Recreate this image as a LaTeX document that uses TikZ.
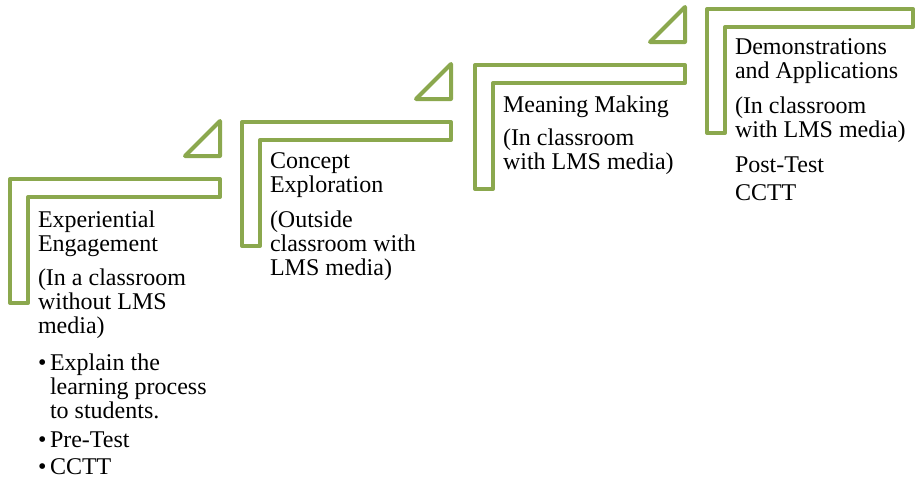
\documentclass[tikz,border=0pt]{standalone}
\usepackage{fontspec}
\setmainfont{Liberation Serif}
\definecolor{stepgreen}{RGB}{139,168,78}
\begin{document}
\begin{tikzpicture}[x=1pt,y=-1pt,
  stepline/.style={draw=stepgreen,line width=4pt,line join=round,fill=white},
  txt/.style={anchor=base west,inner sep=0pt,outer sep=0pt,font=\fontsize{24}{24}\selectfont}]
\useasboundingbox[fill=white] (0,0) rectangle (917,482);
% step shapes: (outer left, outer top, outer width)
\foreach \sx/\sy/\sw in {8/177/214, 240/120/213, 473/63/214, 705/7/210}{
  \begin{scope}[shift={(\sx,\sy)}]
    \pgfmathsetmacro{\r}{\sw-2}
    \draw[stepline] (2,2) -- (\r,2) -- (\r,20) -- (20,20) -- (20,126) -- (2,126) -- cycle;
  \end{scope}
}
% triangles
\foreach \sx/\sy/\sw in {8/177/214, 240/120/213, 473/63/214}{
  \begin{scope}[shift={(\sx,\sy)}]
    \pgfmathsetmacro{\r}{\sw-2}
    \pgfmathsetmacro{\l}{\sw-37}
    \draw[stepline] (\r,-21) -- (\r,-56) -- (\l,-21) -- cycle;
  \end{scope}
}
% step 1
\node[txt] (a1) at (38,227) {Experiential};
\node[txt] (a2) at (38,251) {Engagement};
\node[txt] (a3) at (38,285) {(In a classroom};
\node[txt] (a4) at (38,309) {without LMS};
\node[txt] (a5) at (38,333) {media)};
\node[txt] (b1) at (38,370) {•};
\node[txt] (a6) at (50,370) {Explain the};
\node[txt] (a7) at (50,394) {learning process};
\node[txt] (a8) at (50,418) {to students.};
\node[txt] (b2) at (38,447) {•};
\node[txt] (a9) at (50,447) {Pre-Test};
\node[txt] (b3) at (38,474) {•};
\node[txt] (a10) at (50,474) {CCTT};
% step 2
\node[txt] (c1) at (270,168) {Concept};
\node[txt] (c2) at (270,192) {Exploration};
\node[txt] (c3) at (270,227) {(Outside};
\node[txt] (c4) at (270,251) {classroom with};
\node[txt] (c5) at (270,275) {LMS media)};
% step 3
\node[txt] (d1) at (503,112) {Meaning Making};
\node[txt] (d2) at (503,145) {(In classroom};
\node[txt] (d3) at (503,169) {with LMS media)};
% step 4
\node[txt] (e1) at (735,54) {Demonstrations};
\node[txt] (e2) at (735,78) {and Applications};
\node[txt] (e3) at (735,113) {(In classroom};
\node[txt] (e4) at (735,137) {with LMS media)};
\node[txt] (e5) at (735,172) {Post-Test};
\node[txt] (e6) at (735,200) {CCTT};
\end{tikzpicture}
\end{document}
